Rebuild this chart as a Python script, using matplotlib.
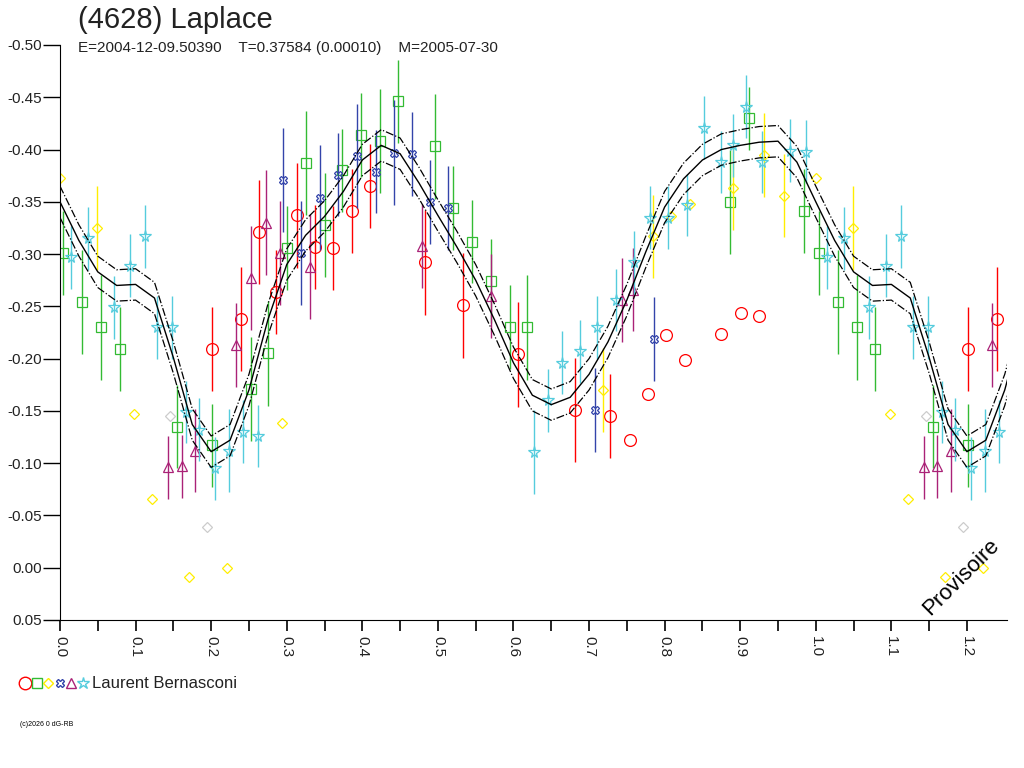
import numpy as np
import matplotlib.pyplot as plt

plt.rcParams['font.family'] = ['Liberation Sans', 'DejaVu Sans']

# phase, magnitude, error
red_p = [.201, .240, .263, .286, .314, .338, .361, .386, .410, .483, .533, .606, .682, .728, .754, .778, .802, .827, .875, .901, .925]
red_m = [-.209, -.238, -.321, -.264, -.337, -.307, -.306, -.341, -.365, -.292, -.251, -.204, -.151, -.145, -.122, -.166, -.223, -.199, -.224, -.244, -.241]
red_e = [.04, .05, .05, .04, .05, .04, .04, .04, .04, .05, .05, .05, .05, .04, 0, 0, 0, 0, 0, 0, 0]

green_p = [.004, .029, .054, .079, .155, .201, .253, .275, .300, .326, .351, .373, .398, .424, .447, .496, .520, .545, .570, .596, .618, .887, .912, .985]
green_m = [-.301, -.254, -.230, -.209, -.135, -.117, -.171, -.205, -.306, -.387, -.328, -.380, -.414, -.408, -.446, -.403, -.344, -.312, -.274, -.230, -.230, -.350, -.430, -.341]
green_e = [.04, .05, .05, .04, .04, .04, .05, .05, .04, .05, .05, .04, .04, .05, .04, .05, .04, .04, .04, .04, .05, .05, .03, .04]

yellow_p = [.000, .049, .098, .122, .171, .221, .294, .719, .784, .809, .834, .891, .931, .958]
yellow_m = [-.373, -.325, -.147, -.066, .009, .000, -.138, -.170, -.317, -.336, -.348, -.363, -.395, -.356]
yellow_e = [0, .04, 0, 0, 0, 0, 0, .04, .04, 0, 0, .04, .04, .04]

grey_p = [.146, .195]
grey_m = [-.145, -.039]

blue_p = [.295, .319, .344, .368, .393, .418, .442, .466, .490, .514, .708, .786]
blue_m = [-.371, -.301, -.354, -.376, -.394, -.379, -.397, -.396, -.350, -.344, -.151, -.219]
blue_e = [.05, .05, .05, .04, .05, .04, .05, .04, .04, .04, .04, .04]

mag_p = [.143, .161, .179, .233, .253, .273, .291, .331, .479, .570, .743, .758]
mag_m = [-.096, -.097, -.112, -.213, -.277, -.330, -.301, -.288, -.308, -.260, -.256, -.266]
mag_e = [.03, .03, .04, .04, .05, .05, .05, .05, .04, .04, .04, .04]

cyan_p = [.015, .037, .071, .093, .113, .128, .148, .167, .184, .205, .224, .242, .262, .627, .646, .664, .688, .711, .736, .760, .781, .805, .829, .852, .874, .891, .908, .929, .966, .987]
cyan_m = [-.297, -.315, -.249, -.289, -.317, -.230, -.230, -.149, -.132, -.095, -.112, -.130, -.126, -.111, -.160, -.196, -.207, -.230, -.256, -.292, -.335, -.335, -.347, -.421, -.388, -.404, -.441, -.388, -.399, -.398]
cyan_e = [.03, .03, .03, .03, .03, .03, .03, .03, .03, .03, .04, .03, .03, .04, .03, .03, .03, .03, .03, .03, .03, .03, .03, .03, .03, .03, .03, .03, .03, .03]

curve_p = np.arange(0, 1.0001, 0.025)
curve_m = [-.350, -.313, -.283, -.270, -.271, -.258, -.201, -.137, -.111, -.122, -.170, -.237, -.290,
           -.318, -.336, -.360, -.390, -.404, -.396, -.368, -.337, -.307, -.275, -.237, -.196, -.165,
           -.156, -.163, -.185, -.216, -.256, -.302, -.345, -.372, -.390, -.400, -.404, -.407, -.408,
           -.388, -.350]
band = 0.015
xmax = 1.253


def wrap(p, m, e=None):
    p = np.array(p); m = np.array(m)
    e = np.zeros_like(p) if e is None else np.array(e)
    k = p + 1 < xmax
    return np.r_[p, p[k] + 1], np.r_[m, m[k]], np.r_[e, e[k]]


fig = plt.figure(figsize=(10.24, 7.68), dpi=100)
ax = fig.add_axes([60/1024, 148/768, 947/1024, 575/768])

series = [
    (red_p, red_m, red_e, '#ff0000', 'o', 8.5),
    (green_p, green_m, green_e, '#33bb33', 's', 6.5),
    (yellow_p, yellow_m, yellow_e, '#ffee00', 'D', 5.5),
    (grey_p, grey_m, None, '#cccccc', 'D', 5.5),
    (blue_p, blue_m, blue_e, '#3344aa', 'X', 5.5),
    (mag_p, mag_m, mag_e, '#aa2277', '^', 6.5),
    (cyan_p, cyan_m, cyan_e, '#55ccdd', '*', 8.5),
]
for p, m, e, c, mk, ms in series:
    pp, mm, ee = wrap(p, m, e)
    ax.vlines(pp[ee > 0], (mm - ee)[ee > 0], (mm + ee)[ee > 0], color=c, lw=1)
    ax.plot(pp, mm, mk, ms=ms, mfc='none', mec=c, mew=0.9, ls='none')

ext = curve_p[1:] + 1 < xmax + 0.03
cp = np.r_[curve_p, curve_p[1:][ext] + 1]
cm = np.r_[curve_m, np.array(curve_m[1:])[ext]]
ax.plot(cp, cm, color='black', lw=1)
ax.plot(cp, cm - band, color='black', lw=0.9, ls='-.')
ax.plot(cp, cm + band, color='black', lw=0.9, ls='-.')

ax.set_xlim(0, xmax)
ax.set_ylim(0.05, -0.50)
ax.set_xticks(np.arange(0, 1.25, 0.1))
ax.set_xticks(np.arange(0.05, 1.25, 0.1), minor=True)
ax.set_xticklabels(['%.1f' % v for v in np.arange(0, 1.25, 0.1)], rotation=270, color='#222222')
ax.set_yticks(np.arange(-0.50, 0.051, 0.05))
ax.set_yticklabels(['%.2f' % v if abs(v) > 1e-9 else '0.00' for v in np.arange(-0.50, 0.051, 0.05)], color='#222222')
ax.tick_params(axis='x', which='both', direction='out', length=8, width=1.2, labelsize=11)
ax.tick_params(axis='y', direction='out', length=12, width=1, labelsize=11, pad=1)
for s in ['top', 'right']:
    ax.spines[s].set_visible(False)

fig.text(78/1024, 1 - 20/768, '(4628) Laplace', fontsize=21, va='center', color='#222222')
fig.text(78/1024, 1 - 48/768, 'E=2004-12-09.50390    T=0.37584 (0.00010)    M=2005-07-30', fontsize=11, va='center', color='#222222')
ax.text(0.952, 0.075, 'Provisoire', transform=ax.transAxes, rotation=45, fontsize=16, ha='center', va='center')

legend_mk = [('o', '#ff0000', 9), ('s', '#33bb33', 6.5), ('D', '#ffee00', 5.5), ('X', '#3344aa', 5.5), ('^', '#aa2277', 6.5), ('*', '#55ccdd', 9)]
for i, (mk, c, ms) in enumerate(legend_mk):
    fig.lines.append(plt.Line2D([(25 + 11.5 * i) / 1024], [1 - 683/768], marker=mk, ms=ms, mfc='none', mec=c,
                                transform=fig.transFigure, ls='none'))
fig.text(92/1024, 1 - 683/768, 'Laurent Bernasconi', fontsize=12, va='center', color='#222222')
fig.text(20/1024, 1 - 725/768, '(c)2026 0 dG-RB', fontsize=5, va='center')

fig.savefig('out.png', dpi=100)
